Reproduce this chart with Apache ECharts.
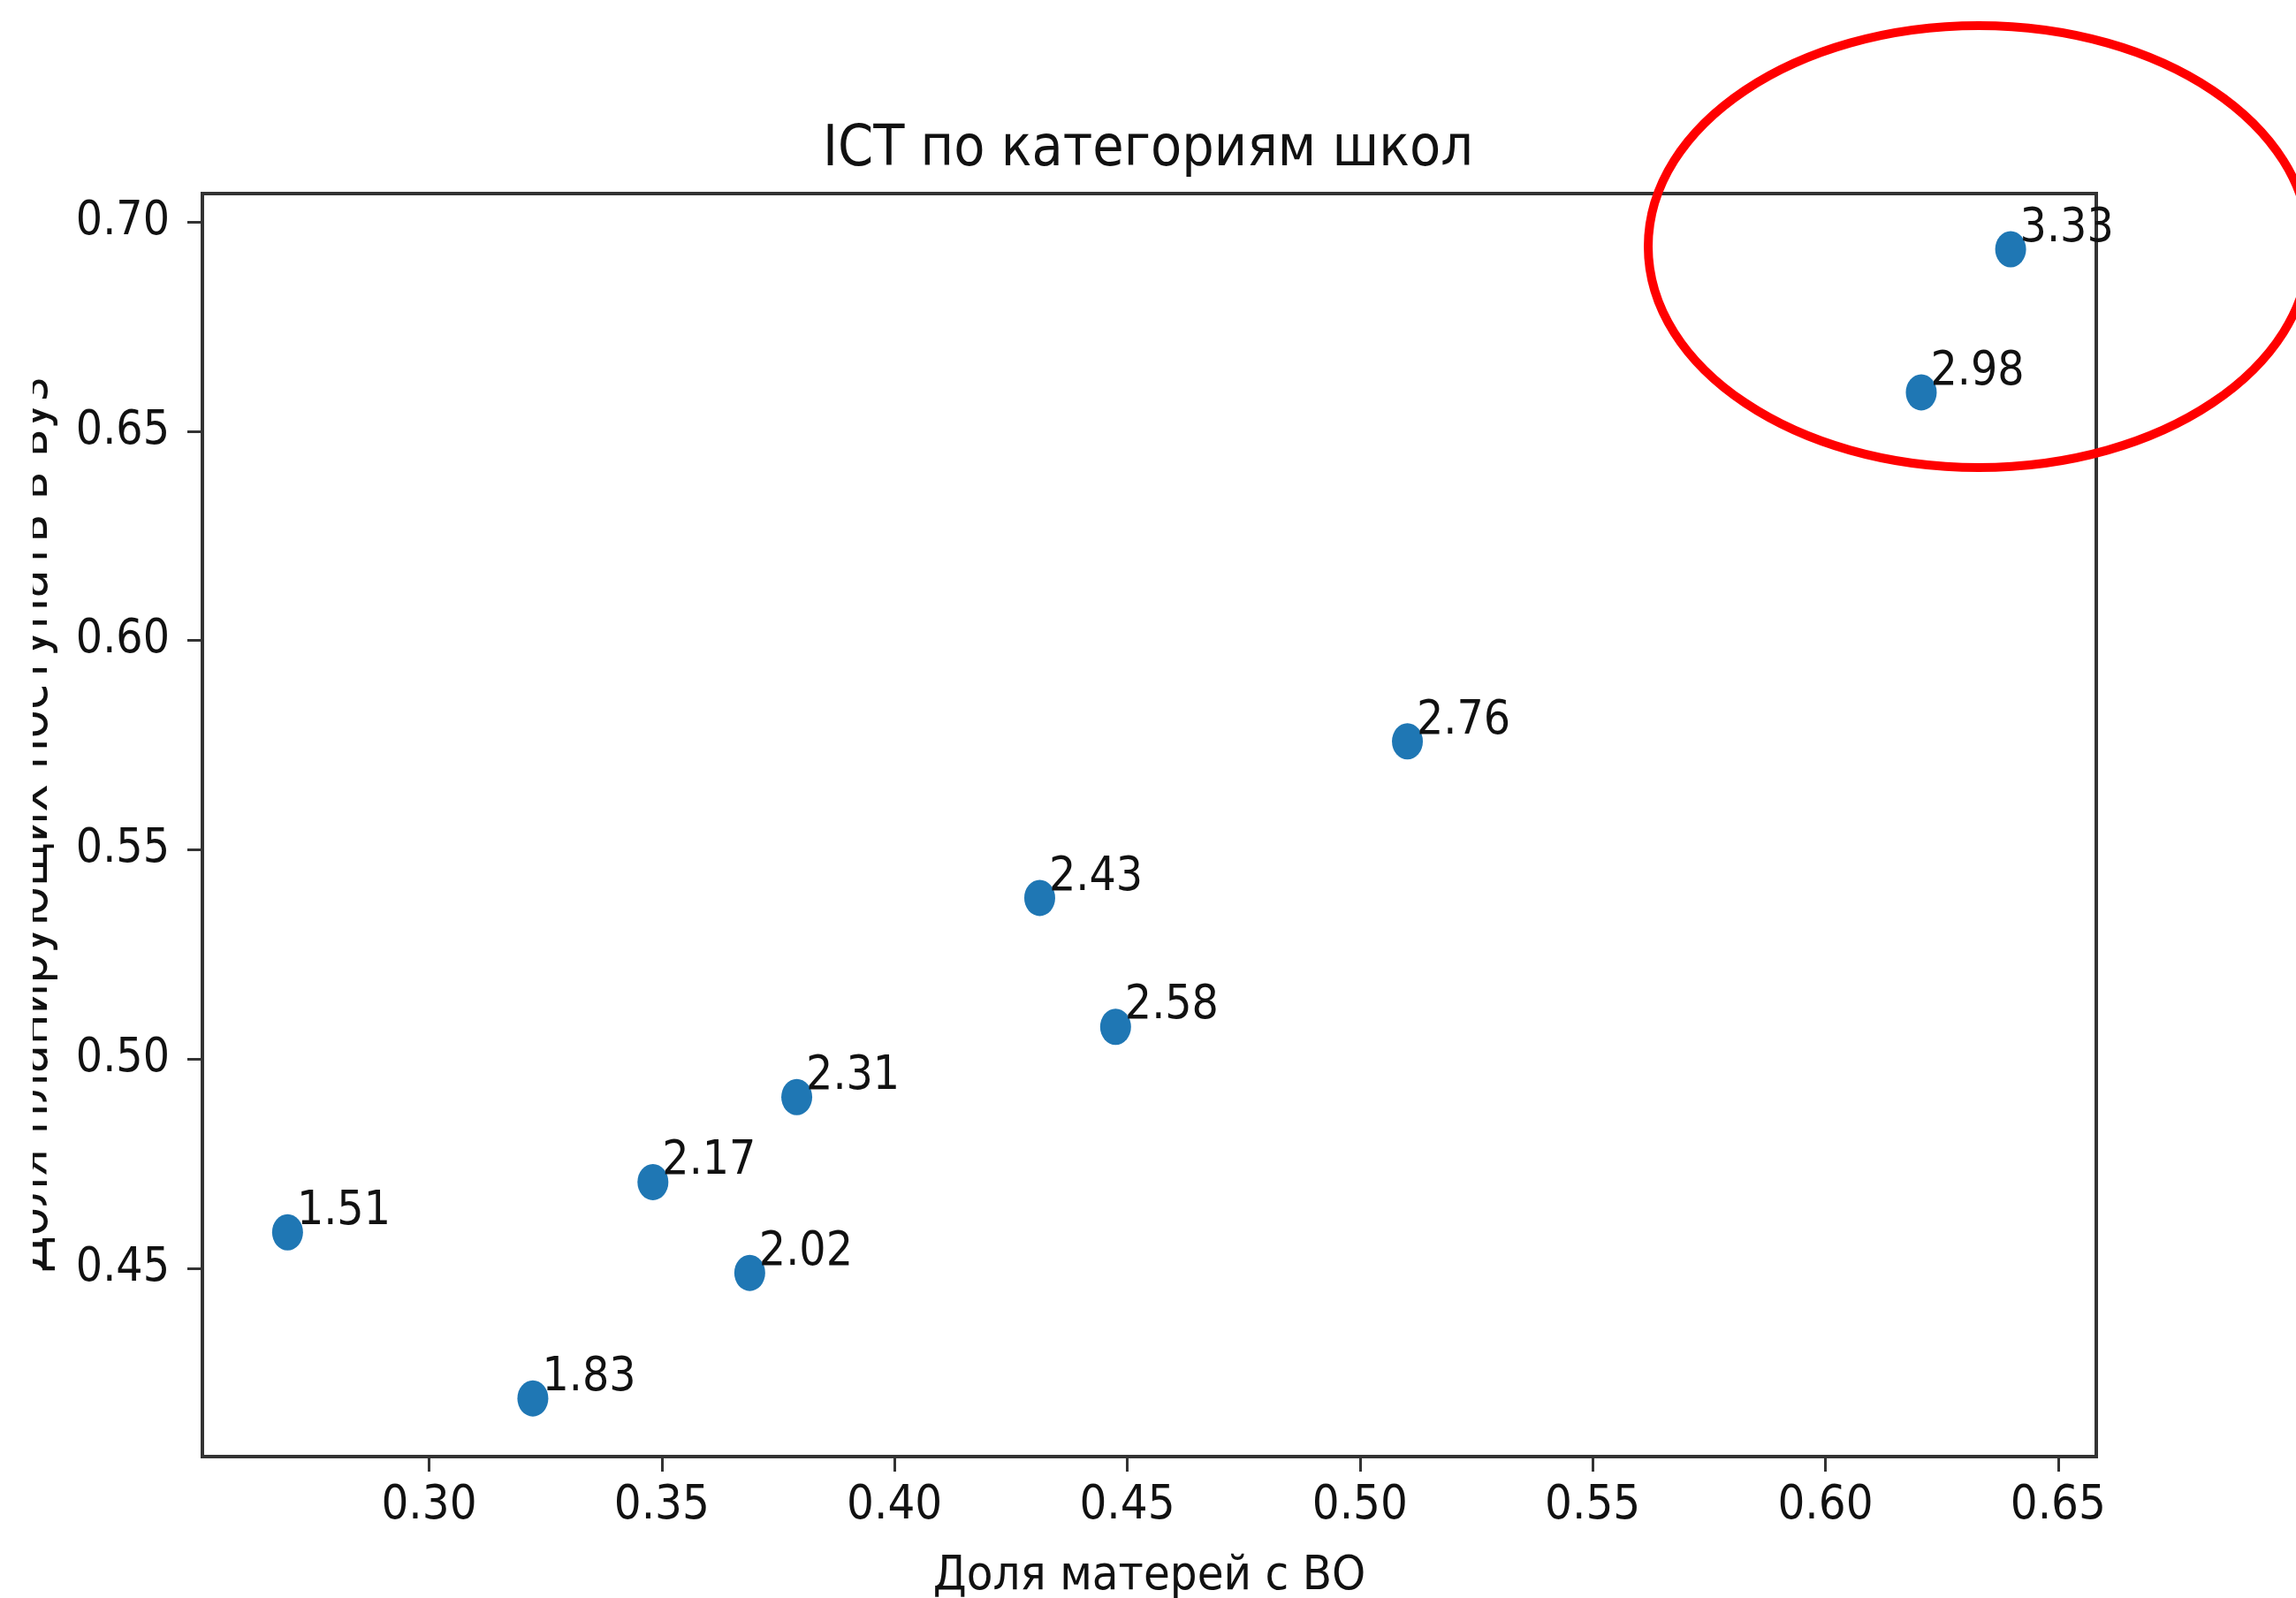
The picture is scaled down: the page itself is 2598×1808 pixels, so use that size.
<!DOCTYPE html>
<html>
<head>
<meta charset="utf-8">
<script src="https://cdn.jsdelivr.net/npm/echarts@6/dist/echarts.min.js"></script>
<style>
html, body { margin: 0; padding: 0; background: #ffffff; }
#chart { width: 2598px; height: 1808px; }
</style>
</head>
<body>
<div id="chart"></div>
<script>
// ---- data ----
const titleText = 'ICT по категориям школ';
const xAxisName = 'Доля матерей с ВО';
const yAxisName = 'Доля планирующих поступать в вуз';
const ictValues = [1.51, 1.83, 2.02, 2.17, 2.31, 2.43, 2.58, 2.76, 2.98, 3.33];
const motherHigherEdShare = [0.2696, 0.3223, 0.3689, 0.3481, 0.3790, 0.4312, 0.4475, 0.5102, 0.6206, 0.6398];
const universityPlanShare = [0.4586, 0.4189, 0.4489, 0.4706, 0.4909, 0.5385, 0.5077, 0.5759, 0.6593, 0.6935];
const xTicks = [0.30, 0.35, 0.40, 0.45, 0.50, 0.55, 0.60, 0.65];
const yTicks = [0.45, 0.50, 0.55, 0.60, 0.65, 0.70];
const xRange = [0.2513, 0.6582];
const yRange = [0.4050, 0.7068];

const FONT = "'DejaVu Sans Condensed', 'DejaVu Sans', sans-serif";
const TEXT = '#111111';
const FRAME = '#333333';

const points = motherHigherEdShare.map((x, i) => [x, universityPlanShare[i], ictValues[i]]);

const chart = echarts.init(document.getElementById('chart'), null, { renderer: 'canvas' });

const axisCommon = {
  type: 'value',
  splitLine: { show: false },
  axisLine: { show: false },
  axisTick: { show: true, inside: false, length: 17, lineStyle: { color: FRAME, width: 3 } }
};

chart.setOption({
  backgroundColor: '#ffffff',
  animation: false,
  title: {
    text: titleText,
    left: 'center',
    top: 125,
    textStyle: { fontFamily: FONT, fontSize: 64, fontWeight: 'normal', color: TEXT, lineHeight: 80 }
  },
  grid: {
    left: 229, right: 226, top: 219, bottom: 160,
    show: true, borderColor: FRAME, borderWidth: 4, backgroundColor: 'transparent',
    containLabel: false, outerBoundsMode: 'none'
  },
  xAxis: Object.assign({}, axisCommon, {
    min: xRange[0], max: xRange[1],
    axisTick: Object.assign({}, axisCommon.axisTick, { customValues: xTicks }),
    axisLabel: {
      customValues: xTicks, margin: 28,
      formatter: v => v.toFixed(2),
      fontFamily: FONT, fontSize: 54, color: TEXT, lineHeight: 56
    },
    name: xAxisName, nameLocation: 'middle', nameGap: 106,
    nameTextStyle: { fontFamily: FONT, fontSize: 54, color: TEXT, lineHeight: 60 }
  }),
  yAxis: Object.assign({}, axisCommon, {
    min: yRange[0], max: yRange[1],
    axisTick: Object.assign({}, axisCommon.axisTick, { customValues: yTicks }),
    axisLabel: {
      customValues: yTicks, margin: 37,
      formatter: v => v.toFixed(2),
      fontFamily: FONT, fontSize: 53, color: TEXT
    }
  }),
  series: [{
    type: 'scatter',
    data: points,
    symbol: 'circle',
    symbolSize: [35, 41],
    itemStyle: { color: '#1f77b4', opacity: 1 },
    emphasis: { disabled: true },
    label: {
      show: true,
      position: [28, -2.5],
      align: 'left',
      verticalAlign: 'middle',
      formatter: p => p.value[2].toFixed(2),
      fontFamily: FONT, fontSize: 53, color: TEXT
    },
    z: 5
  }],
  graphic: [
    {
      type: 'text',
      x: 38, y: 933,
      rotation: Math.PI / 2,
      z: 10,
      style: {
        text: yAxisName,
        fontFamily: FONT, fontSize: 59, fill: TEXT,
        align: 'center', verticalAlign: 'middle'
      }
    },
    {
      type: 'rect',
      z: 11,
      shape: { x: 0, y: 360, width: 37, height: 1150 },
      style: { fill: '#ffffff' }
    },
    {
      type: 'ellipse',
      z: 20,
      shape: { cx: 2239, cy: 279, rx: 374, ry: 250 },
      style: { fill: 'none', stroke: '#ff0000', lineWidth: 10 }
    }
  ]
});
</script>
</body>
</html>
